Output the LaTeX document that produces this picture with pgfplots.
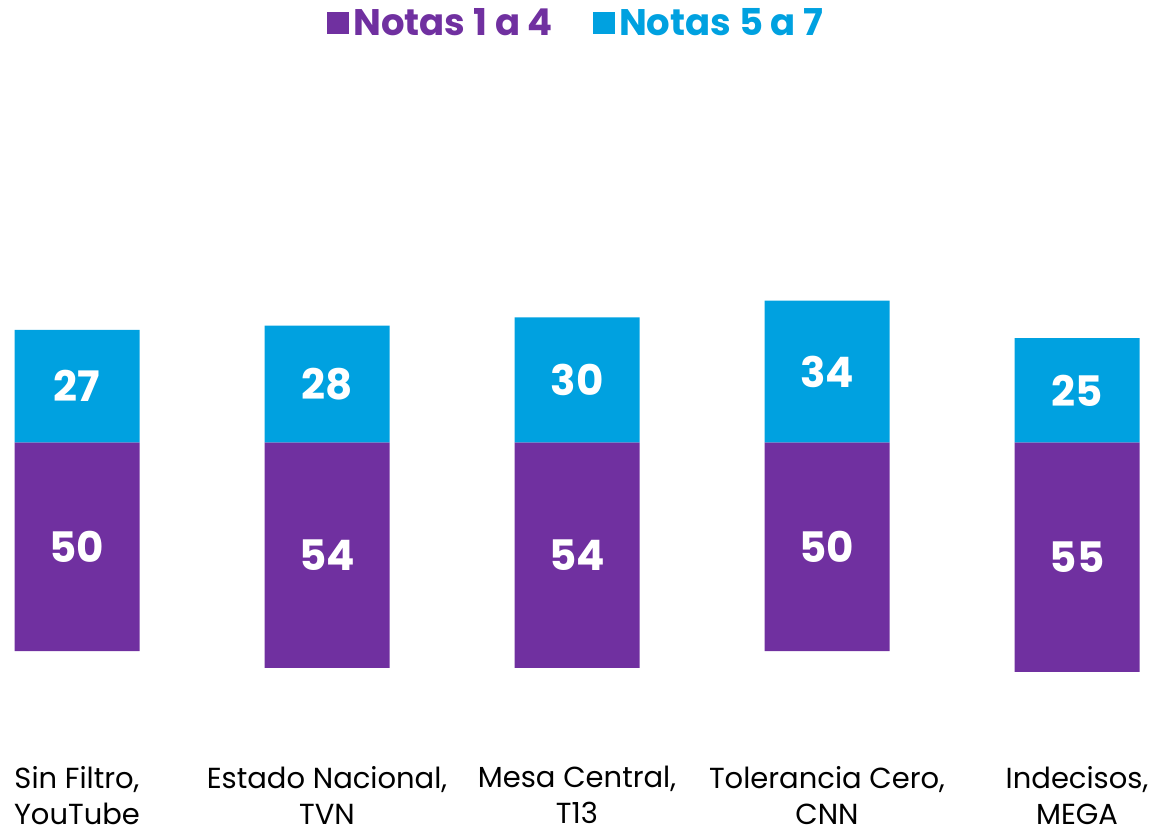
\documentclass[border=0pt]{standalone}
\usepackage{pgfplots}
\pgfplotsset{compat=1.18}
\usepackage{pgfplotstable}
\usepackage{fontspec}
\setmainfont{Poppins}
\definecolor{purp}{RGB}{112,48,160}
\definecolor{cyanb}{RGB}{0,161,224}

\pgfplotstableread{
x p c
0 50 27
1 54 28
2 54 30
3 50 34
4 55 25
}\notas

\begin{document}
\begin{tikzpicture}
\begin{axis}[
    scale only axis,
    width=577.5pt, height=345pt,
    xmin=-0.308, xmax=4.312,
    ymin=-74.3, ymax=91.1,
    clip=false,
    axis line style={draw=none},
    tick style={draw=none},
    ytick=\empty,
    ybar, bar width=62.5pt, bar shift=0pt,
    xtick={0,1,2,3,4},
    xticklabels={{Sin Filtro,\\YouTube},{Estado Nacional,\\TVN},{Mesa Central,\\T13},{Tolerancia Cero,\\CNN},{Indecisos,\\MEGA}},
    xticklabel style={align=center, font=\fontsize{14.5}{18}\selectfont, text=black, yshift=1pt},
    legend style={at={(0.5,1)}, anchor=south, yshift=8pt, draw=none, fill=none,
        legend columns=2, font=\fontsize{18.5}{20}\selectfont\bfseries,
        /tikz/every even column/.append style={column sep=18pt}},
    legend image code/.code={\fill[#1,draw=none] (0pt,-5.5pt) rectangle (11pt,5.5pt);},
]
\addplot[fill=purp, draw=none] table[x=x, y expr=-\thisrow{p}] {\notas};
\addlegendentry{\textcolor{purp}{Notas 1 a 4}}
\addplot[fill=cyanb, draw=none] table[x=x, y=c] {\notas};
\addlegendentry{\textcolor{cyanb}{Notas 5 a 7}}
\addplot[forget plot, draw=none, mark=none, nodes near coords, point meta=explicit symbolic,
    every node near coord/.style={anchor=center, text=white, font=\fontsize{21}{24}\selectfont\bfseries}]
    table[x=x, y expr=-\thisrow{p}/2, meta=p] {\notas};
\addplot[forget plot, draw=none, mark=none, nodes near coords, point meta=explicit symbolic,
    every node near coord/.style={anchor=center, text=white, font=\fontsize{21}{24}\selectfont\bfseries}]
    table[x=x, y expr=\thisrow{c}/2, meta=c] {\notas};
\end{axis}
\end{tikzpicture}
\end{document}
